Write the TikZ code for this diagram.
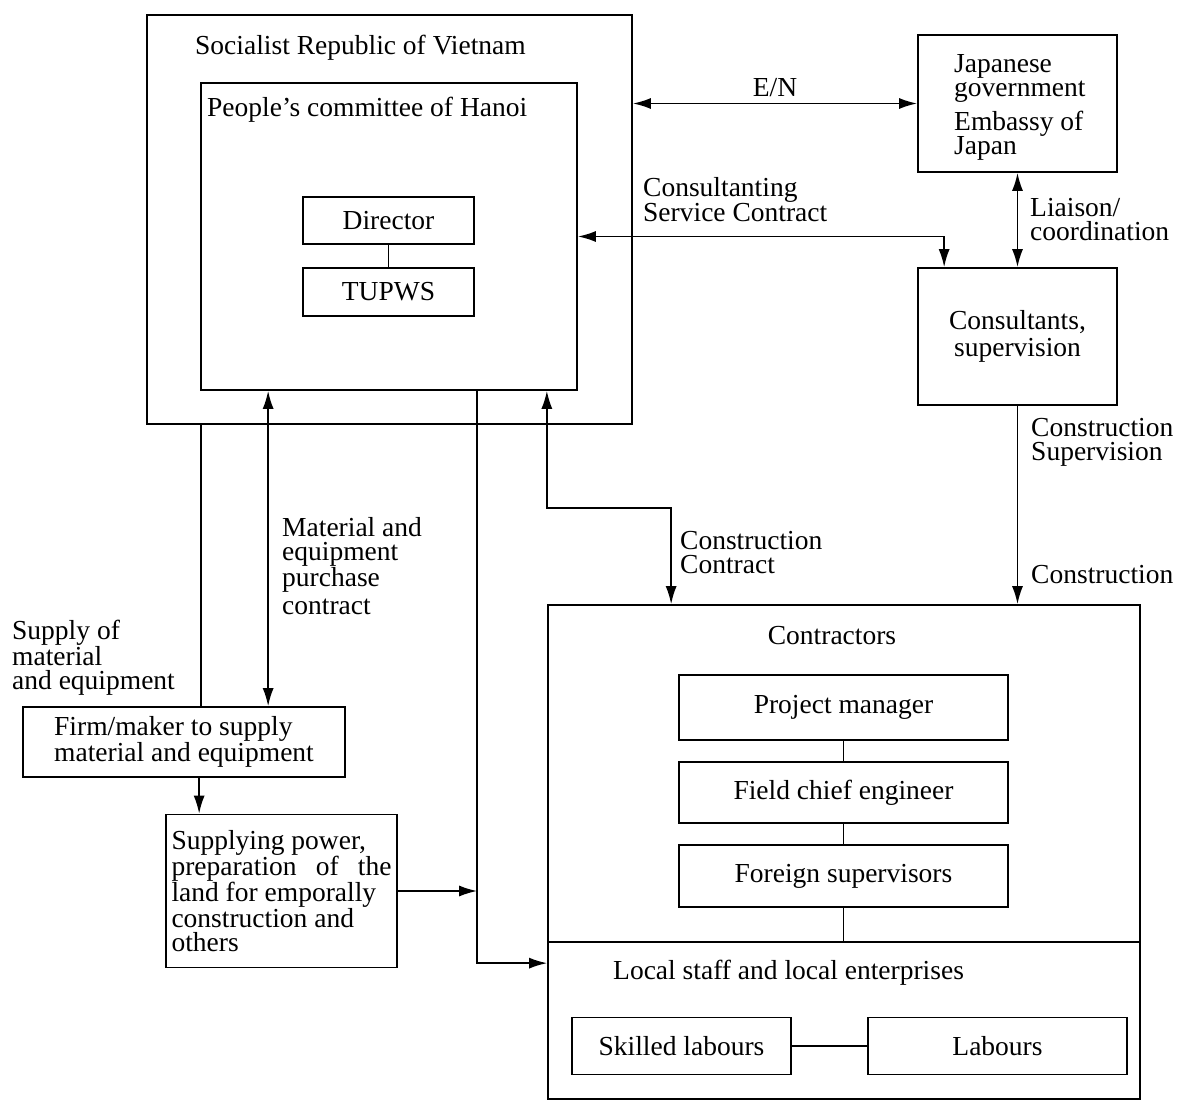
\documentclass[tikz,border=0pt]{standalone}
\usepackage{fontspec}
\setmainfont{Liberation Serif}
\usetikzlibrary{arrows.meta}
\begin{document}
\begin{tikzpicture}[x=1pt,y={(0pt,-1pt)},
  every node/.style={font=\fontsize{27.5}{23}\selectfont, inner sep=0pt},
  box/.style={draw, line width=1.7pt, rectangle},
  lbl/.style={anchor=west, align=left},
  conn/.style={line width=1.7pt},
  tip/.style={-{Latex[length=18pt,width=11pt]}},
  dbl/.style={{Latex[length=18pt,width=11pt]}-{Latex[length=18pt,width=11pt]}}
]
\useasboundingbox (0,0) rectangle (1181,1102);

% --- boxes ---
\node[box, minimum width=485pt, minimum height=409pt] (svn) at (389.5,219.5) {};
\node[box, minimum width=376pt, minimum height=307pt] (pch) at (389,236.5) {};
\node[box, minimum width=171pt, minimum height=47pt] (dir) at (388.5,220.5) {Director};
\node[box, minimum width=171pt, minimum height=48pt] (tup) at (388.5,292) {TUPWS};
\node[box, minimum width=199pt, minimum height=137pt] (japan) at (1017.5,103.5) {};
\node[box, minimum width=199pt, minimum height=137pt, align=center,
      font=\fontsize{27.5}{27}\selectfont] (cons) at (1017.5,336.5)
      {Consultants,\\supervision};
\node[box, minimum width=592pt, minimum height=337pt] (contr) at (844,773.5) {};
\node[box, minimum width=592pt, minimum height=157pt] (local) at (844,1020.5) {};
\node[box, minimum width=329pt, minimum height=65pt] (pm) at (843.5,707.5) {Project manager};
\node[box, minimum width=329pt, minimum height=61pt] (fce) at (843.5,792.5) {Field chief engineer};
\node[box, minimum width=329pt, minimum height=62pt] (fs) at (843.5,876) {Foreign supervisors};
\node[box, minimum width=219pt, minimum height=57pt] (sk) at (681.5,1046) {Skilled labours};
\node[box, minimum width=259pt, minimum height=57pt] (lab) at (997.5,1046) {Labours};
\node[box, minimum width=322pt, minimum height=70pt, align=left,
      font=\fontsize{27.5}{24}\selectfont] (firm) at (184,742)
      {Firm/maker to supply\\material and equipment};
\node[box, minimum width=231pt, minimum height=153pt, align=left,
      font=\fontsize{27.5}{24}\selectfont] (sup) at (281.5,891)
      {Supplying power,\\\makebox[220pt][s]{preparation of the}\\land for emporally\\construction and\\others};

% --- labels ---
\node[lbl] (svnl) at (195,48) {Socialist Republic of Vietnam};
\node[lbl] (pchl) at (207,110) {People's committee of Hanoi};
\node (enl) at (775,88) {E/N};
\node[lbl, font=\fontsize{27.5}{24}\selectfont] (japl1) at (954,78) {Japanese\\government};
\node[lbl, font=\fontsize{27.5}{24}\selectfont] (japl2) at (954,136) {Embassy of\\Japan};
\node[lbl] (cscl) at (643,200) {Consultanting\\Service Contract};
\node[lbl, font=\fontsize{27.5}{24}\selectfont] (liail) at (1030,220) {Liaison/\\coordination};
\node[lbl, font=\fontsize{27.5}{24}\selectfont] (csupl) at (1031,442) {Construction\\Supervision};
\node[lbl] (constl) at (1031,575) {Construction};
\node[lbl, font=\fontsize{27.5}{24}\selectfont] (ccl) at (680,553) {Construction\\Contract};
\node[lbl, font=\fontsize{27.5}{24}\selectfont] (matl) at (282,566) {Material and\\equipment\\purchase\\[4pt]contract};
\node[lbl, font=\fontsize{27.5}{24}\selectfont] (supl) at (12,658) {Supply of\\material\\and equipment};
\node (contrl) at (832,636) {Contractors};
\node[lbl] (locall) at (613,973) {Local staff and local enterprises};

% --- connectors ---
\draw[conn] (dir) -- (tup);
\draw[conn] (pm) -- (fce);
\draw[conn] (fce) -- (fs);
\draw[conn] (fs.south) -- (fs.south |- local.north);
\draw[conn] (sk) -- (lab);

\draw[conn, dbl] (svn.east |- japan.west) -- (japan.west);
\draw[conn, dbl] (pch.east) -| ([xshift=27pt]cons.north west);
\draw[conn, dbl] (japan.south) -- (cons.north);
\draw[conn, tip] (cons.south) -- (cons.south |- contr.north);

\coordinate (ccA) at ([xshift=-31pt]pch.south east);
\coordinate (ccB) at ([xshift=124pt]contr.north west);
\draw[conn, dbl] (ccA) -- ++(0,117) -| (ccB);

\draw[conn, dbl] ([xshift=68pt]pch.south west) -- ([xshift=246pt]firm.north west);
\draw[conn] ([xshift=55pt]svn.south west) -- ([xshift=179pt]firm.north west);
\draw[conn, tip] ([xshift=177pt]firm.south west) -- ([xshift=34pt]sup.north west);

\coordinate (vx) at ([xshift=277pt]pch.south west);
\draw[conn, tip] (vx) |- ([yshift=-22pt]local.north west);
\draw[conn, tip] (sup.east) -- (sup.east -| vx);
\end{tikzpicture}
\end{document}
